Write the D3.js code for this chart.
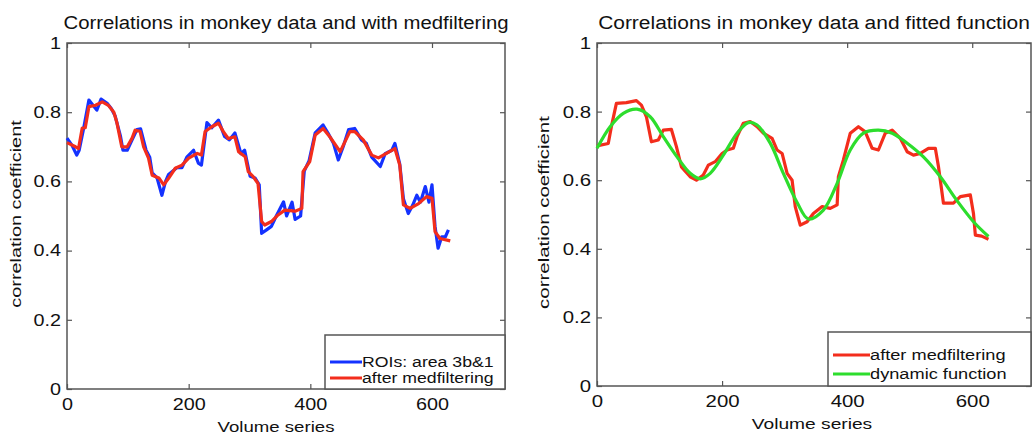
<!DOCTYPE html>
<html>
<head>
<meta charset="utf-8">
<script src="https://cdn.jsdelivr.net/npm/d3@7"></script>
<style>
  body { margin: 0; background: #fff; }
  svg { display: block; font-family: "Liberation Sans", Arial, sans-serif; }
</style>
</head>
<body>
<svg id="chart" width="1033" height="437"></svg>
<script>
// data (x = volume index, y = correlation)
const rawX = [0, 8, 16, 20, 27, 36, 45, 49, 56, 66, 73, 79, 88, 92, 99, 107, 115, 121, 130, 136, 140, 148, 156, 162, 167, 181, 189, 197, 208, 216,
  221, 230, 238, 249, 259, 267, 276, 286, 292, 301, 309, 316, 320, 328, 336, 344, 356, 361, 370, 375, 384, 390, 398, 408, 421, 429,
  438, 446, 454, 463, 473, 484, 492, 501, 515, 523, 534, 539, 547, 553, 561, 568, 575, 581, 589, 595, 600, 605, 610, 616, 622, 627];
const rawY = [0.725, 0.705, 0.676, 0.69, 0.75, 0.835, 0.815, 0.806, 0.838, 0.826, 0.81, 0.79, 0.73, 0.69, 0.69, 0.72, 0.75, 0.752, 0.69, 0.67,
  0.625, 0.61, 0.56, 0.6, 0.62, 0.64, 0.64, 0.67, 0.69, 0.653,
  0.647, 0.77, 0.755, 0.777, 0.73, 0.72, 0.74, 0.68, 0.69, 0.615, 0.61, 0.59, 0.45, 0.46, 0.47, 0.5, 0.541, 0.5, 0.54, 0.49, 0.5, 0.63,
  0.66, 0.74, 0.763, 0.74,
  0.71, 0.662, 0.7, 0.75, 0.753, 0.72, 0.71, 0.67, 0.643, 0.68, 0.69, 0.71, 0.65, 0.55, 0.507, 0.53, 0.56, 0.54, 0.585, 0.54, 0.59, 0.47,
  0.407, 0.44, 0.44, 0.46];

const medX = [0, 14, 19, 25, 30, 36, 47, 58, 68, 77, 82, 90, 99, 107, 112, 120, 126, 134, 140, 151, 159, 167, 178, 189, 200, 214,
  221, 227, 238, 249, 257, 265, 276, 282, 293, 298, 306, 314, 320, 325, 336, 347, 358, 375, 386, 388, 399, 408, 421, 432,
  449, 465, 473, 487, 501, 512, 525, 539, 547, 553, 564, 578, 591, 600, 605, 613, 630];
const medY = [0.712, 0.70, 0.695, 0.754, 0.755, 0.816, 0.82, 0.83, 0.82, 0.80, 0.77, 0.70, 0.70, 0.725, 0.748, 0.745, 0.70, 0.667, 0.618,
  0.61, 0.59, 0.609, 0.638, 0.647, 0.667, 0.681,
  0.676, 0.744, 0.758, 0.768, 0.744, 0.724, 0.729, 0.686, 0.671, 0.628, 0.614, 0.594, 0.484, 0.474, 0.484, 0.503, 0.517, 0.514,
  0.522, 0.628, 0.657, 0.734, 0.753, 0.729,
  0.686, 0.744, 0.744, 0.72, 0.676, 0.668, 0.681, 0.695, 0.647, 0.532, 0.522, 0.536, 0.556, 0.551, 0.455, 0.435, 0.428];

// right panel: wider median filter and the fitted dynamic function
const med2X = [0, 18, 23, 31, 47, 63, 71, 79, 87, 98, 106, 119, 127, 135, 149, 159, 170, 178, 189, 200, 208, 218, 224, 234, 245,
  256, 266, 280, 288, 296, 304, 312, 317, 325, 336, 346, 360, 373, 384, 386, 394, 405, 418, 429, 440, 450, 461, 472, 485,
  496, 506, 517, 530, 541, 546, 554, 570, 581, 597, 602, 605, 615, 626];
const med2Y = [0.70, 0.707, 0.756, 0.824, 0.826, 0.832, 0.819, 0.785, 0.712, 0.717, 0.746, 0.748, 0.698, 0.639, 0.61, 0.60, 0.615,
  0.644, 0.654, 0.678, 0.688, 0.693, 0.727, 0.766, 0.771,
  0.756, 0.737, 0.722, 0.688, 0.678, 0.62, 0.60, 0.523, 0.469, 0.479, 0.503, 0.523, 0.518, 0.528, 0.61, 0.659, 0.737, 0.756,
  0.741, 0.693, 0.688, 0.737, 0.746, 0.722,
  0.683, 0.673, 0.678, 0.693, 0.693, 0.64, 0.533, 0.533, 0.552, 0.557, 0.503, 0.44, 0.437, 0.428];

const fitX = [0, 21, 42, 64, 85, 106, 128, 149, 165, 181, 202, 224, 242, 256, 277, 298, 320, 338, 362, 384, 405, 426, 450, 472,
  496, 522, 549, 575, 602, 626];
const fitY = [0.693, 0.756, 0.795, 0.807, 0.785, 0.727, 0.668, 0.62, 0.604, 0.62, 0.673, 0.737, 0.768, 0.761, 0.708, 0.62, 0.535,
  0.487, 0.513, 0.591, 0.688, 0.737, 0.746, 0.737, 0.708, 0.668, 0.61, 0.542, 0.479, 0.436];

const yTicks = [0, 0.2, 0.4, 0.6, 0.8, 1];
const xTicks = [0, 200, 400, 600];

const panels = [
  {
    title: "Correlations in monkey data and with medfiltering",
    left: 67, right: 505, top: 43, bottom: 389, xMax: 720, k: 1,
    ylabX: 21, xlabX: 276,
    series: [
      { name: "ROIs: area 3b&1", color: "#1432ff", xs: rawX, ys: rawY, curve: d3.curveLinear },
      { name: "after medfiltering", color: "#f32d1c", xs: medX, ys: medY, curve: d3.curveLinear }
    ],
    legend: { x: 325, y: 335, w: 180, h: 54, x1: 330, x2: 362, rows: [362, 378] }
  },
  {
    title: "Correlations in monkey data and fitted function",
    left: 597, right: 1031, top: 43, bottom: 386, xMax: 694, k: 1.03,
    ylabX: 549, xlabX: 812,
    series: [
      { name: "after medfiltering", color: "#f32d1c", xs: med2X, ys: med2Y, curve: d3.curveLinear },
      { name: "dynamic function", color: "#2ddd2d", xs: fitX, ys: fitY, curve: d3.curveCatmullRom }
    ],
    legend: { x: 828, y: 332, w: 203, h: 54, x1: 833, x2: 870, rows: [355, 374] }
  }
];

const svg = d3.select("#chart");
const sx = 1.2; // glyphs look wide in the picture

panels.forEach(p => {
  const x = d3.scaleLinear().domain([0, p.xMax]).range([p.left, p.right]);
  const y = d3.scaleLinear().domain([0, 1]).range([p.bottom, p.top]);
  const g = svg.append("g");

  // axes frame
  g.append("rect")
    .attr("x", p.left).attr("y", p.top)
    .attr("width", p.right - p.left).attr("height", p.bottom - p.top)
    .attr("fill", "none").attr("stroke", "#555").attr("stroke-width", 1.5);

  const styleAxis = sel => {
    sel.select(".domain").remove();
    sel.selectAll("line").attr("stroke", "#555").attr("stroke-width", 1.2);
    sel.selectAll("text").attr("fill", "#111").attr("font-size", 16.5 * p.k)
      .attr("transform", `scale(${sx},1)`);
  };

  g.append("g").attr("transform", `translate(0,${p.bottom})`)
    .call(d3.axisBottom(x).tickValues(xTicks).tickSize(-5).tickPadding(9))
    .call(styleAxis);
  g.append("g").attr("transform", `translate(0,${p.top})`)
    .call(d3.axisTop(x).tickValues(xTicks).tickSize(-5).tickFormat(""))
    .call(styleAxis);
  g.append("g").attr("transform", `translate(${p.left},0)`)
    .call(d3.axisLeft(y).tickValues(yTicks).tickSize(-5).tickPadding(5).tickFormat(d3.format("~g")))
    .call(styleAxis);
  g.append("g").attr("transform", `translate(${p.right},0)`)
    .call(d3.axisRight(y).tickValues(yTicks).tickSize(-5).tickFormat(""))
    .call(styleAxis);

  // lines
  p.series.forEach(s => {
    const pts = s.xs.map((v, i) => [v, s.ys[i]]);
    g.append("path")
      .datum(pts)
      .attr("fill", "none")
      .attr("stroke", s.color)
      .attr("stroke-width", 3.2)
      .attr("stroke-linejoin", "round")
      .attr("d", d3.line().x(d => x(d[0])).y(d => y(d[1])).curve(s.curve));
  });

  // title
  g.append("text")
    .attr("transform", `translate(${(p.left + p.right) / 2},${p.top - 14}) scale(${1.13 * p.k},1)`)
    .attr("text-anchor", "middle").attr("font-size", 18).attr("fill", "#111")
    .text(p.title);

  // axis labels
  g.append("text")
    .attr("transform", `translate(${p.xlabX},${p.bottom + 43}) scale(${1.33 * p.k},1)`)
    .attr("text-anchor", "middle").attr("font-size", 14).attr("fill", "#111")
    .text("Volume series");
  g.append("text")
    .attr("transform", `translate(${p.ylabX},${(p.top + p.bottom) / 2 - 2}) rotate(-90) scale(${1.42 * p.k},1)`)
    .attr("text-anchor", "middle").attr("font-size", 14).attr("fill", "#111")
    .text("correlation coefficient");

  // legend
  const L = p.legend;
  const lg = g.append("g");
  lg.append("rect")
    .attr("x", L.x).attr("y", L.y).attr("width", L.w).attr("height", L.h)
    .attr("fill", "#fff").attr("stroke", "#555").attr("stroke-width", 1.5);
  p.series.forEach((s, i) => {
    const ly = L.rows[i];
    lg.append("line")
      .attr("x1", L.x1).attr("x2", L.x2)
      .attr("y1", ly).attr("y2", ly)
      .attr("stroke", s.color).attr("stroke-width", 3);
    lg.append("text")
      .attr("transform", `translate(${L.x2},${ly + 5}) scale(${1.22 * p.k},1)`)
      .attr("font-size", 14.5).attr("fill", "#111")
      .text(s.name);
  });
});
</script>
</body>
</html>
